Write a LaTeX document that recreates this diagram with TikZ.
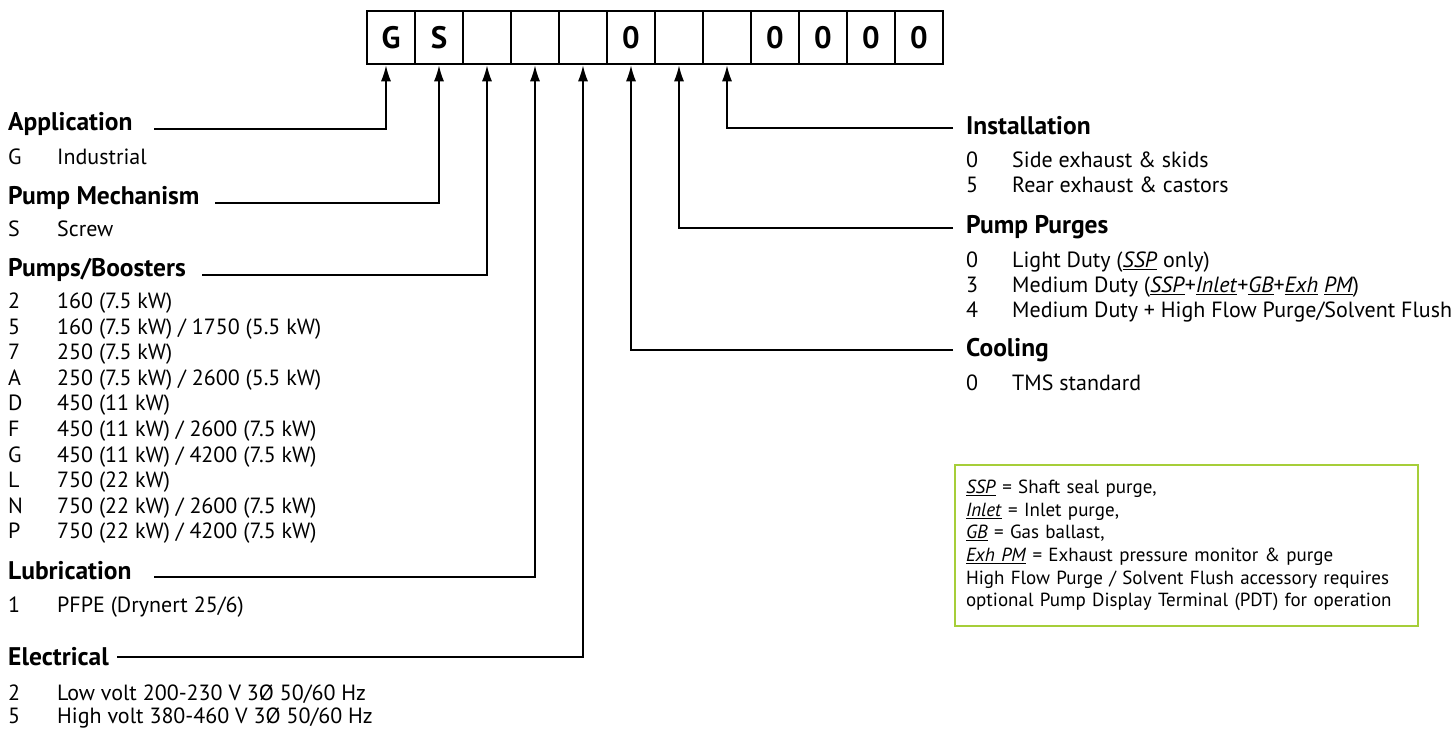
\documentclass[tikz,border=0pt]{standalone}
\usepackage{fontspec}
\setmainfont{PT Sans}
\usetikzlibrary{arrows.meta}
\definecolor{keygreen}{RGB}{166,206,57}
\begin{document}
\begin{tikzpicture}[x=1pt, y=-1pt,
  cell/.style={draw, line width=2.5pt, minimum width=48pt, minimum height=53pt, inner sep=0pt, font=\fontsize{31}{31}\selectfont\bfseries},
  head/.style={anchor=west, inner sep=0pt, text height=18pt, text depth=6pt, font=\fontsize{25.5}{25.5}\selectfont\bfseries},
  item/.style={anchor=west, inner sep=0pt, text height=16pt, text depth=5pt, font=\fontsize{22}{22}\selectfont},
  lead/.style={line width=1.5pt, -{Latex[length=16pt,width=10pt]}},
  keybox/.style={draw=keygreen, line width=1.5pt, minimum width=463pt, minimum height=161pt, text width=441pt, align=left, inner sep=11pt, font=\fontsize{19}{22.6}\selectfont}]
\useasboundingbox (0,0) rectangle (1456,732);
\foreach \v [count=\i] in {G,S,{},{},{},0,{},{},0,0,0,0}
  \node[cell] (c\i) at ({343+48*\i},37.5) {\v};
\node[head] (app) at (8,124) {Application};
\node[item] (app-k1) at (8,159) {G};
\node[item] (app-t1) at (57,159) {Industrial};
\node[head] (mech) at (8,198) {Pump Mechanism};
\node[item] (mech-k1) at (8,231) {S};
\node[item] (mech-t1) at (57,231) {Screw};
\node[head] (pb) at (8,270) {Pumps/Boosters};
\foreach \k/\t [count=\i] in {2/{160 (7.5 kW)}, 5/{160 (7.5 kW) / 1750 (5.5 kW)}, 7/{250 (7.5 kW)}, A/{250 (7.5 kW) / 2600 (5.5 kW)}, D/{450 (11 kW)}, F/{450 (11 kW) / 2600 (7.5 kW)}, G/{450 (11 kW) / 4200 (7.5 kW)}, L/{750 (22 kW)}, N/{750 (22 kW) / 2600 (7.5 kW)}, P/{750 (22 kW) / 4200 (7.5 kW)}}{
  \node[item] (pb-k\i) at (8,{277.4+25.6*\i}) {\k};
  \node[item] (pb-t\i) at (57,{277.4+25.6*\i}) {\t};
}
\node[head] (lub) at (8,573) {Lubrication};
\node[item] (lub-k1) at (8,607) {1};
\node[item] (lub-t1) at (57,607) {PFPE (Drynert 25/6)};
\node[head] (elec) at (8,659) {Electrical};
\node[item] (elec-k1) at (8,695) {2};
\node[item] (elec-t1) at (57,695) {Low volt 200-230 V 3Ø 50/60 Hz};
\node[item] (elec-k2) at (8,718) {5};
\node[item] (elec-t2) at (57,718) {High volt 380-460 V 3Ø 50/60 Hz};
\node[head] (inst) at (966,128) {Installation};
\node[item] (inst-k1) at (966,162) {0};
\node[item] (inst-t1) at (1012,162) {Side exhaust \& skids};
\node[item] (inst-k2) at (966,187) {5};
\node[item] (inst-t2) at (1012,187) {Rear exhaust \& castors};
\node[head] (purge) at (966,227) {Pump Purges};
\node[item] (purge-k1) at (966,262) {0};
\node[item] (purge-t1) at (1012,262) {Light Duty (\underline{\textit{SSP}} only)};
\node[item] (purge-k2) at (966,287) {3};
\node[item] (purge-t2) at (1012,287) {Medium Duty (\underline{\textit{SSP}}+\underline{\textit{Inlet}}+\underline{\textit{GB}}+\underline{\textit{Exh}} \underline{\textit{PM}})};
\node[item] (purge-k3) at (966,312) {4};
\node[item] (purge-t3) at (1012,312) {Medium Duty + High Flow Purge/Solvent Flush};
\node[head] (cool) at (966,350) {Cooling};
\node[item] (cool-k1) at (966,385) {0};
\node[item] (cool-t1) at (1012,385) {TMS standard};
\node[keybox] (key) at (1186.5,545.5) {\underline{\textit{SSP}} = Shaft seal purge,\\
  \underline{\textit{Inlet}} = Inlet purge,\\
  \underline{\textit{GB}} = Gas ballast,\\
  \underline{\textit{Exh PM}} = Exhaust pressure monitor \& purge\\
  High Flow Purge / Solvent Flush accessory requires\\
  optional Pump Display Terminal (PDT) for operation};
\coordinate (app-l) at (154,129);
\coordinate (mech-l) at (215,203);
\coordinate (pb-l) at (202,275);
\coordinate (lub-l) at (154,577);
\coordinate (elec-l) at (117,657);
\coordinate (inst-l) at (953,128);
\coordinate (purge-l) at (953,228);
\coordinate (cool-l) at (953,350);
\draw[lead] (app-l) -| ([xshift=-5pt]c1.south);
\draw[lead] (mech-l) -| (c2.south);
\draw[lead] (pb-l) -| (c3.south);
\draw[lead] (lub-l) -| (c4.south);
\draw[lead] (elec-l) -| (c5.south);
\draw[lead] (cool-l) -| (c6.south);
\draw[lead] (purge-l) -| (c7.south);
\draw[lead] (inst-l) -| (c8.south);
\end{tikzpicture}
\end{document}
